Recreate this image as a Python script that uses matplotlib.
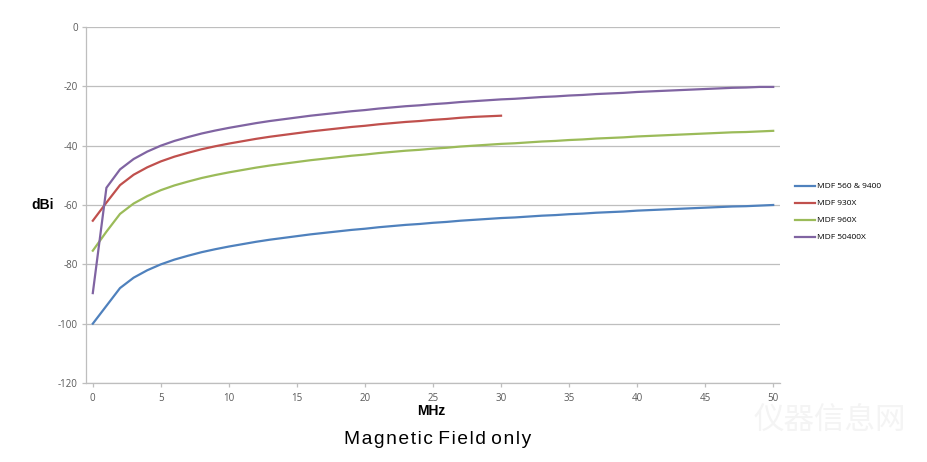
from matplotlib import pyplot as plt
import numpy as np

# data (MHz vs dBi)
freq = np.arange(0, 51)
freq_930 = np.arange(0, 31)

mdf_560 = [-100, -94, -88, -84.5, -82, -80, -78.4, -77.1, -75.9, -74.9, -74,
           -73.2, -72.4, -71.7, -71.1, -70.5, -69.9, -69.4, -68.9, -68.4, -68,
           -67.5, -67.1, -66.7, -66.4, -66, -65.7, -65.3, -65, -64.7, -64.4,
           -64.2, -63.9, -63.6, -63.4, -63.1, -62.9, -62.6, -62.4, -62.2, -61.9,
           -61.7, -61.5, -61.3, -61.1, -60.9, -60.7, -60.5, -60.4, -60.2, -60]
mdf_930 = [-65.3, -59.2, -53.3, -49.8, -47.3, -45.3, -43.7, -42.4, -41.2, -40.2, -39.3,
           -38.5, -37.7, -37, -36.4, -35.8, -35.2, -34.7, -34.2, -33.7, -33.3,
           -32.8, -32.4, -32, -31.7, -31.3, -31, -30.6, -30.3, -30.1, -29.9]
mdf_960 = [-75.4, -69, -63, -59.5, -57, -55, -53.4, -52.1, -50.9, -49.9, -49,
           -48.2, -47.4, -46.7, -46.1, -45.5, -44.9, -44.4, -43.9, -43.4, -43,
           -42.5, -42.1, -41.7, -41.4, -41, -40.7, -40.3, -40, -39.7, -39.4,
           -39.2, -38.9, -38.6, -38.4, -38.1, -37.9, -37.6, -37.4, -37.2, -36.9,
           -36.7, -36.5, -36.3, -36.1, -35.9, -35.7, -35.5, -35.4, -35.2, -35]
mdf_50400 = [-89.7, -54.2, -48, -44.5, -42, -40, -38.4, -37.1, -35.9, -34.9, -34,
             -33.2, -32.4, -31.7, -31.1, -30.5, -29.9, -29.4, -28.9, -28.4, -28,
             -27.5, -27.1, -26.7, -26.4, -26, -25.7, -25.3, -25, -24.7, -24.4,
             -24.2, -23.9, -23.6, -23.4, -23.1, -22.9, -22.6, -22.4, -22.2, -21.9,
             -21.7, -21.5, -21.3, -21.1, -20.9, -20.7, -20.5, -20.4, -20.2, -20.2]

labels = ["MDF 560 & 9400", "MDF 930X", "MDF 960X", "MDF 50400X"]
colors = ["#4F81BD", "#C0504D", "#9BBB59", "#8064A2"]

plt.rcParams['font.family'] = ['Open Sans', 'DejaVu Sans']
plt.rcParams['axes.unicode_minus'] = False

fig = plt.figure(figsize=(9.28, 4.62), dpi=100)
ax = fig.add_axes([86/928, 1-383/462, 694/928, 356/462])

ax.plot(freq, mdf_560, color=colors[0], lw=1.6, label=labels[0])
ax.plot(freq_930, mdf_930, color=colors[1], lw=1.6, label=labels[1])
ax.plot(freq, mdf_960, color=colors[2], lw=1.6, label=labels[2])
ax.plot(freq, mdf_50400, color=colors[3], lw=1.6, label=labels[3])

ax.set_xlim(-0.5, 50.5)
ax.set_ylim(-120, 0)
ax.set_xticks(np.arange(0, 51, 5))
ax.set_yticks(np.arange(-120, 1, 20))
ax.grid(axis='y', color='#BEBEBE', lw=0.9)
ax.set_axisbelow(True)
for s in ['top', 'right']:
    ax.spines[s].set_visible(False)
for s in ['left', 'bottom']:
    ax.spines[s].set_color('#BEBEBE')
    ax.spines[s].set_linewidth(0.9)
ax.tick_params(axis='both', colors='#BEBEBE', labelcolor='#595959',
               labelsize=7, length=3, width=0.9)
ax.tick_params(axis='y', pad=3)
ax.tick_params(axis='x', pad=4)

fig.text(43/928, 1-205/462, "dBi", fontsize=10, fontweight='bold',
         family='Liberation Sans', ha='center', va='center')
fig.text(431/928, 1-411/462, "MHz", fontsize=10, fontweight='bold',
         family='Liberation Sans', ha='center', va='center')

# title with a little letter spacing
title_words = ["Magnetic", "Field", "only"]
title = " ".join("\u200a".join(w) for w in title_words)
fig.text(438/928, 1-440/462, title, fontsize=13.8,
         family=['Liberation Sans', 'DejaVu Sans'], ha='center', va='center')

# faint watermark
fig.text(830/928, 1-420/462, "仪器信息网", fontsize=22, color='#F4F4F4',
         family=['Noto Sans CJK SC'], ha='center', va='center')

fig.legend(loc='center left', bbox_to_anchor=(788/928, 1-212/462),
           frameon=False, fontsize=6, handlelength=2.4, handletextpad=0.2,
           labelspacing=1.1)

plt.savefig("out.png", dpi=100)
